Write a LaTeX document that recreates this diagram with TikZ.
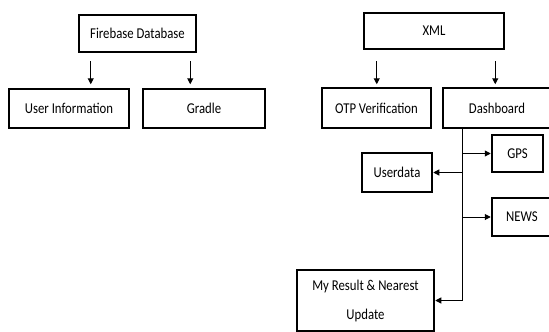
\documentclass[tikz,border=0pt]{standalone}
\usepackage{fontspec}
\setmainfont{Carlito}[FakeStretch=0.85]
\usetikzlibrary{arrows.meta,positioning}

\tikzset{
  block/.style={draw, rectangle, line width=2.5pt, inner sep=0pt, font=\fontsize{15}{17}\selectfont},
  arr/.style={-{Triangle[length=6pt,width=6pt]}, line width=1pt}
}

\begin{document}
\begin{tikzpicture}[x=1pt,y=-1pt]
  \useasboundingbox (0,0) rectangle (549,332);

  % left tree
  \node[block, minimum width=117pt, minimum height=37pt] (fire) at (137.5,33.5) {Firebase Database};
  \node[block, minimum width=120pt, minimum height=39pt] (userinfo) at (69,108.5) {User Information};
  \node[block, minimum width=122pt, minimum height=39pt] (gradle) at (204,108.5) {Gradle};
  \draw[arr] (fire.south west) ++(13,8) -- ++(0,23);
  \draw[arr] (fire.south east) ++(-7,8) -- ++(0,23);

  % right tree
  \node[block, minimum width=140pt, minimum height=36pt] (xml) at (434,31) {XML};
  \node[block, minimum width=109pt, minimum height=40pt] (otp) at (376.5,108) {OTP Verification};
  \node[block, minimum width=108pt, minimum height=40pt] (dash) at (497,108) {Dashboard};
  \draw[arr] (xml.south west) ++(14,11) -- ++(0,23);
  \draw[arr] (xml.south east) ++(-10,11) -- ++(0,23);

  % dashboard items
  \node[block, minimum width=51pt, minimum height=37pt] (gps) at (517.5,153.5) {GPS};
  \node[block, minimum width=70pt, minimum height=39pt] (userdata) at (397,172.5) {Userdata};
  \node[block, minimum width=60pt, minimum height=38pt] (news) at (522,217) {NEWS};
  \node[block, minimum width=137pt, minimum height=61pt, align=center] (result) at (365.5,300.5)
    {My Result \& Nearest\\[12pt]Update};

  \coordinate (trunk) at ([xshift=21pt]dash.south west);
  \coordinate (trunkend) at (trunk |- result.east);
  \draw[line width=1pt] (trunk) -- (trunkend);
  \draw[arr] (trunk |- gps.west) -- (gps.west);
  \draw[arr] (trunk |- userdata.east) -- (userdata.east);
  \draw[arr] (trunk |- news.west) -- (news.west);
  \draw[arr] (trunkend) -- (result.east);
\end{tikzpicture}
\end{document}
